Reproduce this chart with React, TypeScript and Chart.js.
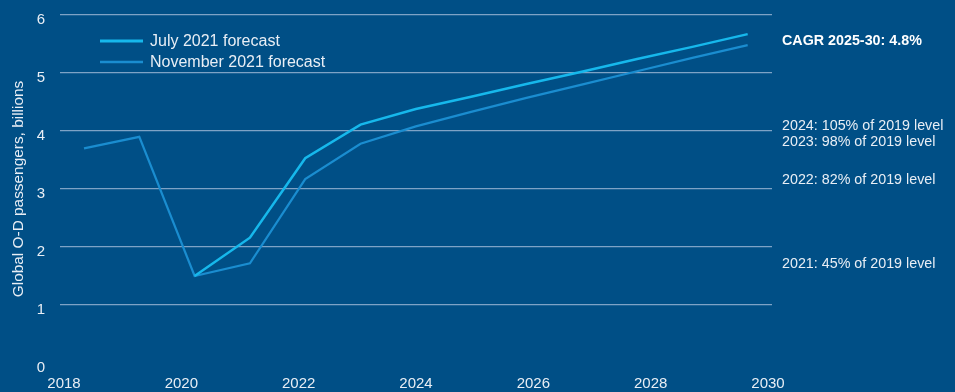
import React, { useEffect, useRef } from "react";
import { Chart, registerables } from "chart.js";

Chart.register(...registerables);

const years = [2018, 2019, 2020, 2021, 2022, 2023, 2024, 2025, 2026, 2027, 2028, 2029, 2030];
const julyForecast = [null, null, 1.5, 2.16, 3.53, 4.11, 4.38, 4.59, 4.81, 5.02, 5.24, 5.45, 5.67];
const novemberForecast = [3.7, 3.9, 1.5, 1.72, 3.17, 3.78, 4.08, 4.33, 4.57, 4.8, 5.03, 5.26, 5.48];
const xTickYears = [2018, 2020, 2022, 2024, 2026, 2028, 2030];
const yTicks = [0, 1, 2, 3, 4, 5, 6];
const seriesNames = ["July 2021 forecast", "November 2021 forecast"];
const noteTexts = [
  "CAGR 2025-30: 4.8%",
  "2024: 105% of 2019 level",
  "2023: 98% of 2019 level",
  "2022: 82% of 2019 level",
  "2021: 45% of 2019 level",
];
const noteLevels = [5.55, 4.09, 3.81, 3.16, 1.71];
const noteBold = [true, false, false, false, false];

const BG = "#004F86";
const JULY = "#16B8EC";
const NOV = "#1A8DD0";
const GRID = "#7EA3C6";
const TEXT = "#E8EEF5";
const FONT = "'Liberation Sans', Arial, sans-serif";

const overlayPlugin = {
  id: "overlay",
  beforeDraw(chart: any) {
    const { ctx, width, height } = chart;
    ctx.save();
    ctx.fillStyle = BG;
    ctx.fillRect(0, 0, width, height);
    ctx.restore();
  },
  afterDraw(chart: any) {
    const { ctx } = chart;
    const yScale = chart.scales.y;
    ctx.save();
    const ds = chart.data.datasets;
    const legendX = 100;
    const legendY = [41, 62];
    ds.forEach((d: any, i: number) => {
      ctx.strokeStyle = d.borderColor;
      ctx.lineWidth = d.borderWidth + 0.5;
      ctx.beginPath();
      ctx.moveTo(legendX, legendY[i]);
      ctx.lineTo(legendX + 43, legendY[i]);
      ctx.stroke();
      ctx.fillStyle = TEXT;
      ctx.font = `16px ${FONT}`;
      ctx.textBaseline = "middle";
      ctx.textAlign = "left";
      ctx.fillText(d.label, legendX + 50, legendY[i] + 1);
    });
    noteTexts.forEach((t, i) => {
      ctx.fillStyle = noteBold[i] ? "#FFFFFF" : TEXT;
      ctx.font = `${noteBold[i] ? "bold " : ""}14.3px ${FONT}`;
      ctx.textBaseline = "middle";
      ctx.textAlign = "left";
      ctx.fillText(t, chart.chartArea.right + 10, yScale.getPixelForValue(noteLevels[i]));
    });
    ctx.restore();
  },
};

export default function App() {
  const ref = useRef<HTMLCanvasElement>(null);
  useEffect(() => {
    document.body.style.margin = "0";
    document.body.style.background = BG;
    const canvas = ref.current!;
    const chart = new Chart(canvas, {
      type: "line",
      data: {
        datasets: [
          {
            label: seriesNames[0],
            data: years.map((y, i) => ({ x: y, y: julyForecast[i] })),
            borderColor: JULY,
            backgroundColor: JULY,
            borderWidth: 2.5,
            pointRadius: 0,
            tension: 0,
            xAxisID: "x",
          },
          {
            label: seriesNames[1],
            data: years.map((y, i) => ({ x: y, y: novemberForecast[i] })),
            borderColor: NOV,
            backgroundColor: NOV,
            borderWidth: 2.2,
            pointRadius: 0,
            tension: 0,
            xAxisID: "x",
          },
        ],
      },
      options: {
        responsive: false,
        animation: false,
        layout: { padding: { left: 0, right: 183, top: 15, bottom: 0 } },
        plugins: { legend: { display: false }, tooltip: { enabled: false } },
        scales: {
          x: {
            type: "linear",
            display: false,
            min: 2017.566,
            max: 2030.44,
          },
          x2: {
            type: "linear",
            position: "bottom",
            min: 2017.932,
            max: 2030.068,
            grid: { display: false, drawTicks: false },
            border: { display: false },
            afterBuildTicks: (s: any) => {
              s.ticks = xTickYears.map((v) => ({ value: v }));
            },
            afterFit: (s: any) => {
              s.height = 29;
              s.paddingLeft = 0;
              s.paddingRight = 0;
            },
            ticks: {
              color: TEXT,
              font: { family: FONT, size: 15 },
              padding: 12,
              maxRotation: 0,
              autoSkip: false,
              callback: (v: any) => String(v),
            },
          },
          y: {
            type: "linear",
            min: 0,
            max: 6,
            afterBuildTicks: (s: any) => {
              s.ticks = yTicks.map((v) => ({ value: v }));
            },
            afterFit: (s: any) => {
              s.width = 60;
              s.paddingTop = 0;
              s.paddingBottom = 0;
            },
            grid: {
              color: (c: any) => (c.tick && c.tick.value === 0 ? "rgba(0,0,0,0)" : GRID),
              lineWidth: 1.2,
              drawTicks: false,
            },
            border: { display: false },
            ticks: {
              color: TEXT,
              font: { family: FONT, size: 15 },
              padding: 15,
              labelOffset: 4.5,
            },
            title: {
              display: true,
              text: "Global O-D passengers, billions",
              color: TEXT,
              font: { family: FONT, size: 15.4 },
              padding: { top: 10, bottom: 0 },
            },
          },
        },
      },
      plugins: [overlayPlugin],
    } as any);
    return () => chart.destroy();
  }, []);
  return <canvas ref={ref} width={955} height={392} style={{ display: "block", width: 955, height: 392 }} />;
}
